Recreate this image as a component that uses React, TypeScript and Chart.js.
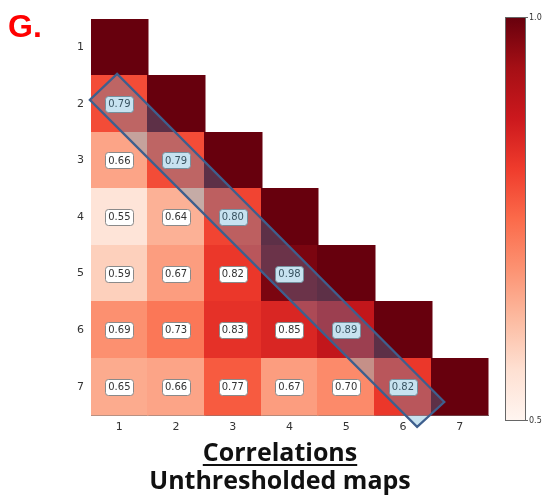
import React, { useEffect, useRef } from 'react';
import { Chart, registerables } from 'chart.js';
Chart.register(...registerables);

// ---- data ----
const tickLabels = ['1', '2', '3', '4', '5', '6', '7'];
const row1 = [1.0];
const row2 = [0.79, 1.0];
const row3 = [0.66, 0.79, 1.0];
const row4 = [0.55, 0.64, 0.8, 1.0];
const row5 = [0.59, 0.67, 0.82, 0.98, 1.0];
const row6 = [0.69, 0.73, 0.83, 0.85, 0.89, 1.0];
const row7 = [0.65, 0.66, 0.77, 0.67, 0.7, 0.82, 1.0];
const matrix = [row1, row2, row3, row4, row5, row6, row7];
const cbMin = 0.5;
const cbMax = 1.0;
const cbTicks = [0.5, 1.0];
// highlighted band (data coordinates: column, row)
const bandX = [0.48, 0.96, 6.73, 6.25];
const bandY = [1.93, 1.47, 7.27, 7.71];
const panelLabel = 'G.';
const titleLine1 = 'Correlations';
const titleLine2 = 'Unthresholded maps';

const redsStops = ['#fff5f0', '#fee0d2', '#fcbba1', '#fc9272', '#fb6a4a', '#ef3b2c', '#cb181d', '#a50f15', '#67000d'];

function hexToRgb(h: string) {
  const n = parseInt(h.slice(1), 16);
  return [(n >> 16) & 255, (n >> 8) & 255, n & 255];
}
function reds(t: number) {
  t = Math.max(0, Math.min(1, t));
  const p = t * (redsStops.length - 1);
  const i = Math.min(Math.floor(p), redsStops.length - 2);
  const f = p - i;
  const a = hexToRgb(redsStops[i]);
  const b = hexToRgb(redsStops[i + 1]);
  const c = a.map((v, k) => Math.round(v + (b[k] - v) * f));
  return `rgb(${c[0]},${c[1]},${c[2]})`;
}

function roundRect(ctx: CanvasRenderingContext2D, x: number, y: number, w: number, h: number, r: number) {
  ctx.beginPath();
  ctx.moveTo(x + r, y);
  ctx.lineTo(x + w - r, y);
  ctx.arcTo(x + w, y, x + w, y + r, r);
  ctx.lineTo(x + w, y + h - r);
  ctx.arcTo(x + w, y + h, x + w - r, y + h, r);
  ctx.lineTo(x + r, y + h);
  ctx.arcTo(x, y + h, x, y + h - r, r);
  ctx.lineTo(x, y + r);
  ctx.arcTo(x, y, x + r, y, r);
  ctx.closePath();
}

export default function App() {
  const ref = useRef<HTMLCanvasElement>(null);
  useEffect(() => {
    const canvas = ref.current!;
    const cells: { x: number; y: number; v: number }[] = [];
    matrix.forEach((row, i) => row.forEach((v, j) => cells.push({ x: j + 1, y: i + 1, v })));

    const heat = {
      id: 'heat',
      beforeDatasetsDraw(chart: any) {
        const { ctx, scales } = chart;
        const xs = scales.x, ys = scales.y;
        ctx.save();
        cells.forEach((c) => {
          const x0 = xs.getPixelForValue(c.x - 0.5), x1 = xs.getPixelForValue(c.x + 0.5);
          const y0 = ys.getPixelForValue(c.y - 0.5), y1 = ys.getPixelForValue(c.y + 0.5);
          ctx.fillStyle = reds((c.v - cbMin) / (cbMax - cbMin));
          const l = Math.floor(Math.min(x0, x1)), t = Math.floor(Math.min(y0, y1));
          ctx.fillRect(l, t, Math.ceil(Math.max(x0, x1)) - l + 0.5, Math.ceil(Math.max(y0, y1)) - t + 0.5);
        });
        ctx.font = '10px "DejaVu Sans"';
        ctx.textAlign = 'center';
        ctx.textBaseline = 'middle';
        cells.forEach((c) => {
          if (c.x === c.y) return;
          const cx = xs.getPixelForValue(c.x), cy = ys.getPixelForValue(c.y);
          const txt = c.v.toFixed(2);
          const w = ctx.measureText(txt).width + 6;
          const h = 16;
          roundRect(ctx, Math.round(cx - w / 2) + 0.5, Math.round(cy - h / 2) + 0.5, Math.round(w), h, 3);
          ctx.fillStyle = '#ffffff';
          ctx.fill();
          ctx.strokeStyle = '#8a8a8a';
          ctx.lineWidth = 1;
          ctx.stroke();
          ctx.fillStyle = '#333333';
          ctx.fillText(txt, cx, cy + 0.5);
        });
        ctx.restore();
      },
      afterDraw(chart: any) {
        const { ctx, scales, chartArea } = chart;
        const xs = scales.x, ys = scales.y;
        ctx.save();
        // band
        ctx.beginPath();
        bandX.forEach((bx, i) => {
          const px = xs.getPixelForValue(bx), py = ys.getPixelForValue(bandY[i]);
          if (i === 0) ctx.moveTo(px, py); else ctx.lineTo(px, py);
        });
        ctx.closePath();
        ctx.fillStyle = 'rgba(70,160,205,0.3)';
        ctx.fill();
        ctx.strokeStyle = '#3e5f8e';
        ctx.lineWidth = 2.2;
        ctx.lineJoin = 'miter';
        ctx.stroke();

        // colorbar
        const cbL = 505, cbW = 20;
        const cbTop = chartArea.top - 2, cbBot = 420;
        const g = ctx.createLinearGradient(0, cbBot, 0, cbTop);
        redsStops.forEach((s, i) => g.addColorStop(i / (redsStops.length - 1), s));
        ctx.fillStyle = g;
        ctx.fillRect(cbL, cbTop, cbW, cbBot - cbTop);
        ctx.strokeStyle = '#666';
        ctx.lineWidth = 1;
        ctx.strokeRect(cbL + 0.5, cbTop + 0.5, cbW, cbBot - cbTop);
        ctx.font = '8px "DejaVu Sans"';
        ctx.fillStyle = '#333';
        ctx.textAlign = 'left';
        ctx.textBaseline = 'middle';
        cbTicks.forEach((tv) => {
          const py = Math.round(cbBot + (cbTop - cbBot) * (tv - cbMin) / (cbMax - cbMin)) + 0.5;
          ctx.beginPath();
          ctx.moveTo(cbL + cbW, py);
          ctx.lineTo(cbL + cbW + 3, py);
          ctx.stroke();
          ctx.fillText(tv.toFixed(1), cbL + cbW + 4, py);
        });

        // panel label
        ctx.fillStyle = '#ff0000';
        ctx.font = 'bold 32px "Liberation Sans"';
        ctx.textAlign = 'left';
        ctx.textBaseline = 'alphabetic';
        ctx.fillText(panelLabel, 8, 37);

        // title
        ctx.fillStyle = '#111';
        ctx.textAlign = 'center';
        ctx.font = 'bold 25px "Open Sans"';
        const tx = 280;
        ctx.fillText(titleLine1, tx, 461);
        const w1 = ctx.measureText(titleLine1).width;
        ctx.fillRect(tx - w1 / 2, 464, w1, 2);
        ctx.fillText(titleLine2, tx, 489);
        ctx.restore();
      },
    };

    const tickCb = (v: any) => {
      const i = Math.round(Number(v)) - 1;
      return tickLabels[i] ?? '';
    };
    const setTicks = (s: any) => {
      s.ticks = tickLabels.map((_, i) => ({ value: i + 1 }));
    };

    const chart = new Chart(canvas, {
      type: 'scatter',
      data: {
        datasets: [
          {
            data: cells.map((c) => ({ x: c.x, y: c.y })),
            pointRadius: 0,
            pointHoverRadius: 0,
          },
        ],
      },
      options: {
        animation: false,
        responsive: false,
        events: [],
        layout: { padding: { left: 61, right: 57, top: 19, bottom: 62 } },
        plugins: { legend: { display: false }, tooltip: { enabled: false } },
        scales: {
          x: {
            type: 'linear',
            min: 0.5,
            max: 7.5,
            afterBuildTicks: setTicks,
            afterFit: (s: any) => { s.height = 25; },
            grid: { display: false, drawTicks: false },
            border: { display: true, color: '#777', width: 1 },
            ticks: { callback: tickCb, padding: 6, color: '#333', font: { family: 'DejaVu Sans', size: 11 }, maxRotation: 0 },
          },
          y: {
            type: 'linear',
            min: 0.5,
            max: 7.5,
            reverse: true,
            afterBuildTicks: setTicks,
            afterFit: (s: any) => { s.width = 30; },
            grid: { display: false, drawTicks: false },
            border: { display: true, color: '#777', width: 1 },
            ticks: { callback: tickCb, padding: 7, color: '#333', font: { family: 'DejaVu Sans', size: 11 } },
          },
        },
      },
      plugins: [heat],
    });
    return () => chart.destroy();
  }, []);

  return (
    <div style={{ position: 'fixed', left: 0, top: 0, width: 545, height: 502, background: '#fff' }}>
      <canvas ref={ref} width={545} height={502} style={{ width: 545, height: 502 }} />
    </div>
  );
}
